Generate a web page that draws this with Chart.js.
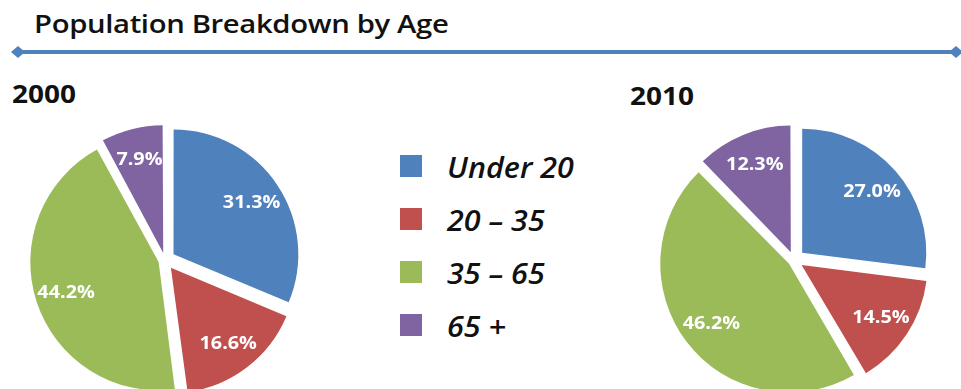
<!DOCTYPE html>
<html>
<head>
<meta charset="utf-8">
<script src="https://cdn.jsdelivr.net/npm/chart.js@4.4.1/dist/chart.umd.min.js"></script>
<style>
  html, body { margin:0; padding:0; width:961px; height:389px; overflow:hidden; background:#ffffff; }
  body { position:relative; font-family:"Open Sans", sans-serif; }
  #title { position:absolute; left:34px; top:6px; font-size:25px; font-weight:600; color:#111; white-space:nowrap; letter-spacing:-0.3px; transform:scaleX(1.17); transform-origin:0 0; }
  #rule { position:absolute; left:0; top:0; }
  .year { position:absolute; font-size:25px; font-weight:700; color:#111; transform:scaleX(1.12); transform-origin:0 0; }
  #y2000 { left:12px; top:76px; }
  #y2010 { left:630px; top:78px; }
  .pie { position:absolute; width:300px; height:300px; }
  #wrapA { left:15px; top:110px; }
  #wrapB { left:644px; top:110px; }
  #legend { position:absolute; left:400px; top:152px; }
  .li { height:53px; position:relative; }
  .sw { position:absolute; left:0; top:3px; width:22px; height:22px; }
  .lt { position:absolute; left:47px; top:-4px; font-size:28px; font-style:italic; font-weight:600; color:#111; white-space:nowrap; transform:scaleX(1.09); transform-origin:0 0; }
</style>
</head>
<body>
<div id="title"></div>
<svg id="rule" width="961" height="70">
  <line x1="18" y1="52" x2="956" y2="52" stroke="#4f81bd" stroke-width="4"/>
  <polygon points="11,52 18,46 25,52 18,58" fill="#4f81bd"/>
  <polygon points="949,52 956,46 963,52 956,58" fill="#4f81bd"/>
</svg>
<div class="year" id="y2000"></div>
<div class="year" id="y2010"></div>
<div class="pie" id="wrapA"><canvas id="pieA" width="300" height="300"></canvas></div>
<div class="pie" id="wrapB"><canvas id="pieB" width="300" height="300"></canvas></div>
<div id="legend"></div>
<script>
const chartTitle = "Population Breakdown by Age";
const categories = ["Under 20", "20 \u2013 35", "35 \u2013 65", "65 +"];
const years = ["2000", "2010"];
const values2000 = [31.3, 16.6, 44.2, 7.9];
const values2010 = [27.0, 14.5, 46.2, 12.3];
const colors = ["#4f81bd", "#c0504d", "#9bbb59", "#8064a2"];

const EXPLODE = 11;   // visual gap distance in px for every slice

document.getElementById("title").textContent = chartTitle;
document.getElementById("y2000").textContent = years[0];
document.getElementById("y2010").textContent = years[1];

const legend = document.getElementById("legend");
categories.forEach((c, i) => {
  const li = document.createElement("div"); li.className = "li";
  const sw = document.createElement("div"); sw.className = "sw"; sw.style.background = colors[i];
  const lt = document.createElement("div"); lt.className = "lt"; lt.textContent = c;
  li.appendChild(sw); li.appendChild(lt); legend.appendChild(li);
});

// Chart.js moves an arc by offset/4 * (1 + (1 - sin(min(PI, circumference))));
// choose per-slice offsets so every slice moves by the same distance.
function offsetsFor(values) {
  const total = values.reduce((a, b) => a + b, 0);
  return values.map(v => {
    const circ = 2 * Math.PI * v / total;
    const fix = 1 - Math.sin(Math.min(Math.PI, circ));
    return 4 * EXPLODE / (1 + fix);
  });
}

const pctLabels = {
  id: "pctLabels",
  afterDatasetsDraw(chart) {
    const ctx = chart.ctx;
    const meta = chart.getDatasetMeta(0);
    const data = chart.data.datasets[0].data;
    ctx.save();
    ctx.font = "bold 18px 'Open Sans', sans-serif";
    ctx.fillStyle = "#ffffff";
    ctx.textAlign = "center";
    ctx.textBaseline = "middle";
    meta.data.forEach((arc, i) => {
      const mid = (arc.startAngle + arc.endAngle) / 2;
      const r = EXPLODE + arc.outerRadius * 0.75;
      const x = arc.x + Math.cos(mid) * r;
      const y = arc.y + Math.sin(mid) * r;
      ctx.save();
      ctx.translate(x, y);
      ctx.scale(1.1, 1);
      ctx.fillText(data[i].toFixed(1) + "%", 0, 1);
      ctx.restore();
    });
    ctx.restore();
  }
};

function makePie(id, values) {
  return new Chart(document.getElementById(id), {
    type: "pie",
    data: {
      labels: categories,
      datasets: [{
        data: values,
        backgroundColor: colors,
        borderWidth: 0,
        offset: offsetsFor(values),
        radius: 124
      }]
    },
    options: {
      responsive: false,
      animation: false,
      layout: { padding: 0 },
      plugins: { legend: { display: false }, tooltip: { enabled: false }, title: { display: false } }
    },
    plugins: [pctLabels]
  });
}
makePie("pieA", values2000);
makePie("pieB", values2010);
</script>
</body>
</html>
